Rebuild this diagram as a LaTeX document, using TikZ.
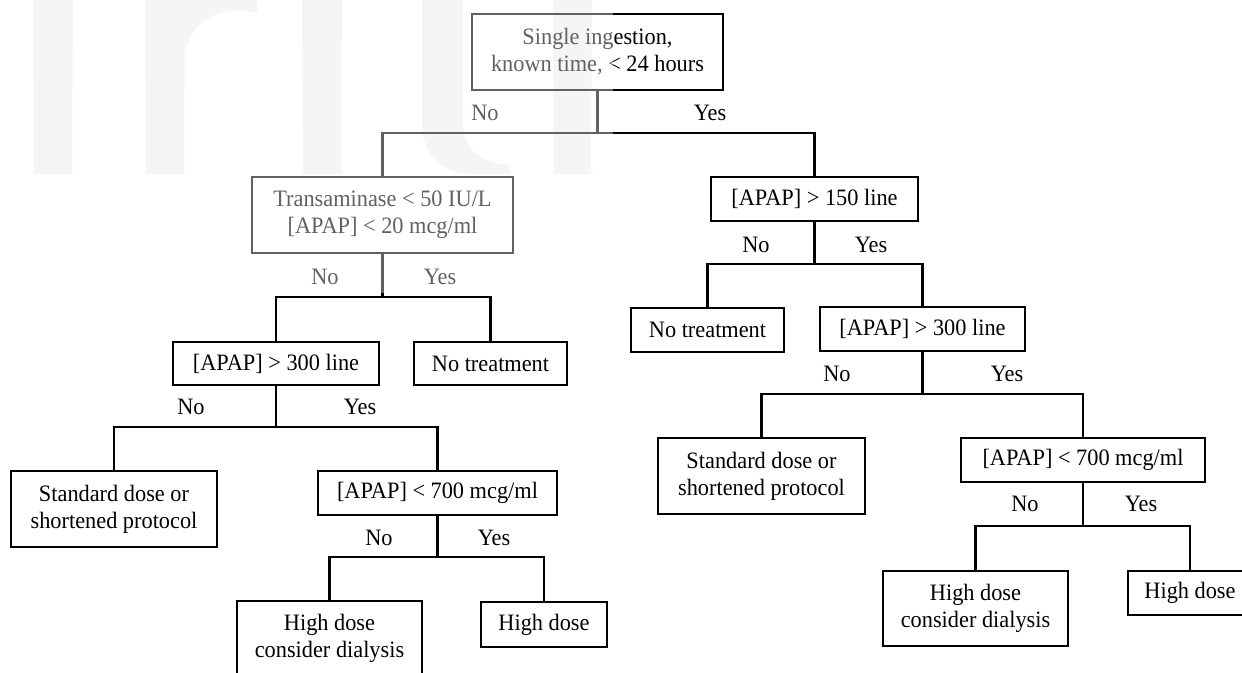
\documentclass[tikz,border=0pt]{standalone}
\usepackage{fontspec}
\setmainfont{Liberation Serif}[FakeStretch=0.95]
\begin{document}
\begin{tikzpicture}[x=1pt,y=-1pt,
  box/.style={draw=black, line width=2.8pt, inner sep=0pt, align=center,
    font=\fontsize{23.5}{26.7}\selectfont},
  lbl/.style={inner sep=0pt, font=\fontsize{23.5}{26.7}\selectfont},
  conn/.style={draw=black, line width=2.6pt},
  wm/.style={fill=gray!12}]
\useasboundingbox (0,0) rectangle (1242,672);
\clip (0,0) rectangle (1242,672);
\fill[white] (0,0) rectangle (1242,672);
% watermark letters
\fill[wm] (33,0) -- (73,0) -- (72,172) -- (74,174) -- (32,174) -- (34,172) -- cycle;
\fill[wm] (145,0) -- (185,0) -- (184,172) -- (186,174) -- (144,174) -- (146,172) -- cycle;
\fill[wm] (185,0) -- (257,0) -- (257,13) .. controls (225,4) and (190,18) .. (185,55) -- cycle;
\fill[wm] (302,0) -- (342,0) -- (341,172) -- (343,174) -- (301,174) -- (303,172) -- cycle;
\fill[wm] (422,0) -- (463,0) -- (463,125) .. controls (463,150) and (480,162) .. (510,165) -- (510,174) -- (465,174) .. controls (435,170) and (422,150) .. (422,120) -- cycle;
\fill[wm] (553,0) -- (592,0) -- (591,172) -- (593,174) -- (552,174) -- (554,172) -- cycle;
% boxes
\node[box, minimum width=251pt, minimum height=76pt] (single) at (597.5,52) {Single ingestion,\\known time, < 24 hours};
\node[box, minimum width=261pt, minimum height=76pt] (trans) at (382.5,215) {Transaminase < 50 IU/L\\{[APAP]} < 20 mcg/ml};
\node[box, minimum width=207pt, minimum height=44pt] (a150) at (814.5,199) {[APAP] > 150 line};
\node[box, minimum width=206pt, minimum height=43pt] (a300L) at (276,363.5) {[APAP] > 300 line};
\node[box, minimum width=153pt, minimum height=43pt] (ntL) at (490.5,363.5) {No treatment};
\node[box, minimum width=153pt, minimum height=44pt] (ntR) at (707.5,330) {No treatment};
\node[box, minimum width=205pt, minimum height=44pt] (a300R) at (922.5,329) {[APAP] > 300 line};
\node[box, minimum width=206pt, minimum height=76pt] (sdL) at (114,509) {Standard dose or\\shortened protocol};
\node[box, minimum width=239pt, minimum height=44pt] (a700L) at (437.5,493) {[APAP] < 700 mcg/ml};
\node[box, minimum width=207pt, minimum height=76pt] (sdR) at (761.5,476) {Standard dose or\\shortened protocol};
\node[box, minimum width=244pt, minimum height=44pt] (a700R) at (1083,460) {[APAP] < 700 mcg/ml};
\node[box, minimum width=185pt, minimum height=75pt] (hdcdL) at (329.5,638.5) {High dose\\consider dialysis};
\node[box, minimum width=126pt, minimum height=45pt] (hdL) at (544,624.5) {High dose};
\node[box, minimum width=185pt, minimum height=75pt] (hdcdR) at (975.5,608.5) {High dose\\consider dialysis};
\node[box, minimum width=124pt, minimum height=44pt] (hdR) at (1190,593) {High dose};
% junctions
\coordinate (j1) at (597.5,133);
\coordinate (j2) at (382.5,297);
\coordinate (j3) at (814.5,264);
\coordinate (j4) at (276,427);
\coordinate (j5) at (922.5,394);
\coordinate (j6) at (437.5,557);
\coordinate (j7) at (1083,526);
% connectors
\draw[conn] (single.south) -- (j1);
\draw[conn] (trans.north) |- (j1) -| (a150.north);
\draw[conn] (trans.south) -- (j2);
\draw[conn] (a300L.north) |- (j2) -| (ntL.north);
\draw[conn] (a150.south) -- (j3);
\draw[conn] (ntR.north) |- (j3) -| (a300R.north);
\draw[conn] (a300L.south) -- (j4);
\draw[conn] (sdL.north) |- (j4) -| (a700L.north);
\draw[conn] (a300R.south) -- (j5);
\draw[conn] (sdR.north) |- (j5) -| (a700R.north);
\draw[conn] (a700L.south) -- (j6);
\draw[conn] (hdcdL.north) |- (j6) -| (hdL.north);
\draw[conn] (a700R.south) -- (j7);
\draw[conn] (hdcdR.north) |- (j7) -| (hdR.north);
% labels
\node[lbl] (n1) at (485,113) {No};
\node[lbl] (y1) at (710,113) {Yes};
\node[lbl] (n2) at (325,277) {No};
\node[lbl] (y2) at (440,277) {Yes};
\node[lbl] (n3) at (756,245) {No};
\node[lbl] (y3) at (871,245) {Yes};
\node[lbl] (n4) at (191,407) {No};
\node[lbl] (y4) at (360,407) {Yes};
\node[lbl] (n5) at (837,374) {No};
\node[lbl] (y5) at (1007,374) {Yes};
\node[lbl] (n6) at (379,538) {No};
\node[lbl] (y6) at (494,538) {Yes};
\node[lbl] (n7) at (1025,504) {No};
\node[lbl] (y7) at (1141,504) {Yes};
% watermark veil
\fill[white, opacity=0.38] (0,0) rectangle (613,293);
\end{tikzpicture}
\end{document}
